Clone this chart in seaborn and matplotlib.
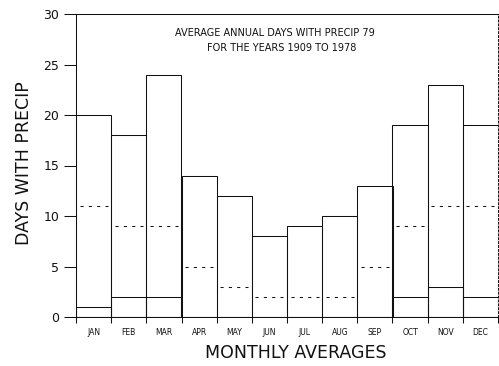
import matplotlib
matplotlib.use("Agg")
import matplotlib.pyplot as plt
import seaborn as sns
import numpy as np
import pandas as pd

months = ["JAN", "FEB", "MAR", "APR", "MAY", "JUN", "JUL", "AUG", "SEP", "OCT", "NOV", "DEC"]
days_01 = [20, 18, 24, 14, 12, 8, 9, 10, 13, 19, 23, 19]   # days with >= 0.01 in
days_10 = [11, 9, 9, 5, 3, 2, 2, 2, 5, 9, 11, 11]          # days with >= 0.10 in
days_100 = [1, 2, 2, 0, 0, 0, 0, 0, 0, 2, 3, 2]            # days with >= 1.00 in
y_ticks = [0, 5, 10, 15, 20, 25, 30]

df = pd.DataFrame({"month": months, "d01": days_01, "d10": days_10, "d100": days_100})

sns.set_style("white")
plt.rcParams["font.family"] = ["DejaVu Sans"]

LW = 0.75
INK = "#111111"

fig = plt.figure(figsize=(4.99, 3.66), dpi=100)
ax = fig.add_axes([76 / 499, 49 / 366, 422 / 499, 303 / 366])

sns.barplot(data=df, x="month", y="d01", ax=ax, width=1.0, fill=False,
            edgecolor=INK, linewidth=LW, errorbar=None)
sns.barplot(data=df, x="month", y="d100", ax=ax, width=1.0, fill=False,
            edgecolor=INK, linewidth=LW, errorbar=None)

# dashed level for the middle series
for i, v in enumerate(days_10):
    ax.hlines(v, i - 0.4, i + 0.4, colors=INK, linestyles=(0, (3, 5)), linewidth=LW)

ax.set_xlim(-0.5, len(months) - 0.5)
ax.set_ylim(0, 30)

ax.set_yticks(y_ticks)
ax.set_yticklabels([str(t) for t in y_ticks], fontsize=9, color=INK)
ax.tick_params(axis="y", direction="out", length=9, width=LW, left=True, pad=3, color=INK)

ax.set_xticks(range(len(months)))
ax.set_xticklabels(months, fontsize=5.5, color=INK)
ax.tick_params(axis="x", which="major", length=0, pad=8)
ax.set_xticks(np.arange(-0.5, len(months), 1.0), minor=True)
ax.tick_params(axis="x", which="minor", direction="out", length=4, width=LW, bottom=True, color=INK)

for side in ["left", "bottom", "top"]:
    ax.spines[side].set_color(INK)
    ax.spines[side].set_linewidth(LW)
ax.spines["right"].set_linestyle((0, (2, 2)))
ax.spines["right"].set_linewidth(0.7)
ax.spines["right"].set_color(INK)

ax.set_xlabel("MONTHLY AVERAGES", fontsize=12.5, color=INK)
ax.xaxis.set_label_coords(0.521, -0.088)
ax.set_ylabel("DAYS WITH PRECIP", fontsize=12.5, color=INK)
ax.yaxis.set_label_coords(-0.102, 0.508)

ax.text(0.472, 0.937, "AVERAGE ANNUAL DAYS WITH PRECIP 79", transform=ax.transAxes,
        ha="center", va="center", fontsize=7, color=INK)
ax.text(0.488, 0.888, "FOR THE YEARS 1909 TO 1978", transform=ax.transAxes,
        ha="center", va="center", fontsize=7, color=INK)

fig.savefig("out.png", dpi=100)
